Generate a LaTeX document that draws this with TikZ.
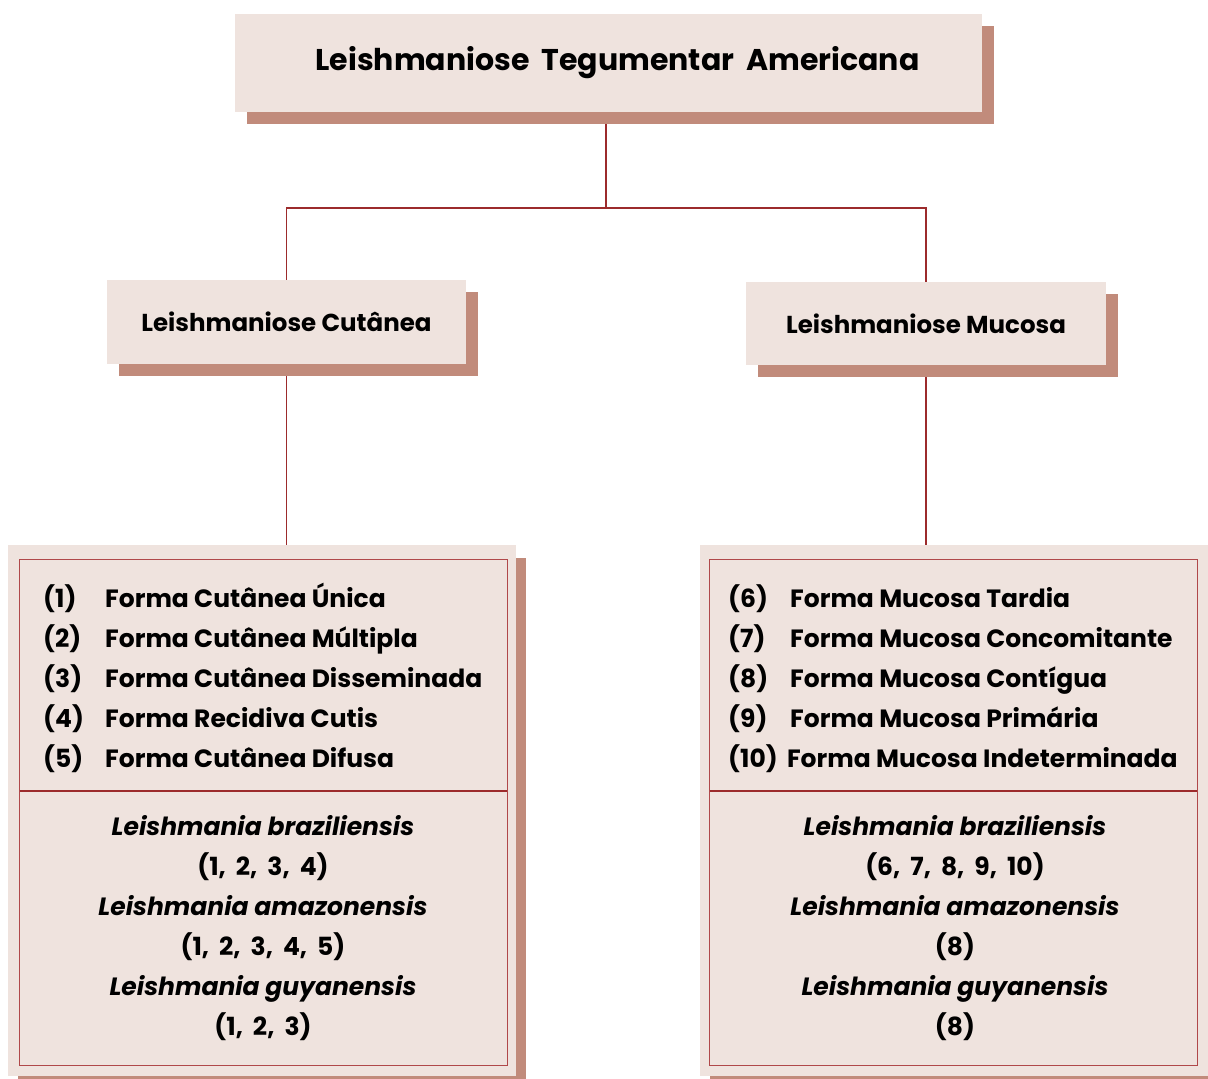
\documentclass[tikz,border=0pt]{standalone}
\usepackage{fontspec}
\setmainfont{Poppins}
\newfontfamily\widefont[WordSpace=1.9]{Poppins}
\usetikzlibrary{shadows,backgrounds}
\definecolor{boxfill}{HTML}{EFE3DE}
\definecolor{shadowrose}{HTML}{C18B7B}
\definecolor{linkred}{HTML}{9C2B2C}
\definecolor{framered}{HTML}{B0484A}

\tikzset{
  box/.style={fill=boxfill, inner sep=0pt, font=\bfseries,
    drop shadow={shadow xshift=12pt, shadow yshift=-12pt, fill=shadowrose, opacity=1}},
  panel/.style={fill=boxfill, inner sep=0pt, minimum width=508pt, minimum height=531pt,
    drop shadow={shadow xshift=10pt, shadow yshift=-13pt, fill=shadowrose, opacity=1}},
  link/.style={draw=linkred, line width=1.8pt},
  frame/.style={draw=framered, line width=1.2pt},
  item/.style={anchor=base west, inner sep=0pt, font=\fontsize{25}{30}\bfseries},
  species/.style={anchor=base, inner sep=0pt, font=\fontsize{25}{30}\bfseries\itshape},
  refs/.style={anchor=base, inner sep=0pt, font=\fontsize{25}{30}\widefont\bfseries}
}

\begin{document}
\begin{tikzpicture}[x=1pt, y=-1pt]
  \useasboundingbox (0,0) rectangle (1208,1079);

  % top level
  \node[box, minimum width=747pt, minimum height=98pt, font=\fontsize{30}{36}\widefont\bfseries] (lta) at (608.5,63) {\hspace*{18pt}Leishmaniose Tegumentar Americana};

  % the two forms
  \node[box, minimum width=359pt, minimum height=84pt, font=\fontsize{24.5}{28}\bfseries] (cut) at (286.5,322) {Leishmaniose Cutânea};
  \node[box, minimum width=360pt, minimum height=83pt, font=\fontsize{24.5}{28}\bfseries] (muc) at (926,323.5) {Leishmaniose Mucosa};

  % lists
  \node[panel] (cutpanel) at (262,810.5) {};
  \node[panel] (mucpanel) at (954,810.5) {};

  \draw[frame] ([shift={(12,15)}]cutpanel.north west) rectangle ([shift={(-9,-11)}]cutpanel.south east);
  \draw[frame] ([shift={(10,15)}]mucpanel.north west) rectangle ([shift={(-11,-11)}]mucpanel.south east);
  \draw[link] ([shift={(12,0)}]cutpanel.west |- 0,791) -- ([shift={(-9,0)}]cutpanel.east |- 0,791);
  \draw[link] ([shift={(10,0)}]mucpanel.west |- 0,791) -- ([shift={(-11,0)}]mucpanel.east |- 0,791);

  \coordinate (fork) at (606,208);
  \begin{scope}[on background layer]
    \draw[link] (lta.south -| fork) -- (fork);
    \draw[link] (cut.north) |- (fork) -| (muc.north);
    \draw[link] (cut.south) -- (cut.south |- cutpanel.north);
    \draw[link] (muc.south) -- (muc.south |- mucpanel.north);
  \end{scope}

  % cutanea
  \node[item] (c1) at (43,607) {\makebox[62pt][l]{(1)}Forma Cutânea Única};
  \node[item] (c2) at (43,647) {\makebox[62pt][l]{(2)}Forma Cutânea Múltipla};
  \node[item] (c3) at (43,687) {\makebox[62pt][l]{(3)}Forma Cutânea Disseminada};
  \node[item] (c4) at (43,727) {\makebox[62pt][l]{(4)}Forma Recidiva Cutis};
  \node[item] (c5) at (43,767) {\makebox[62pt][l]{(5)}Forma Cutânea Difusa};

  \node[species] (cbra) at (263,835) {Leishmania braziliensis};
  \node[refs] (cbran) at (263,875) {(1, 2, 3, 4)};
  \node[species] (cama) at (263,915) {Leishmania amazonensis};
  \node[refs] (caman) at (263,955) {(1, 2, 3, 4, 5)};
  \node[species] (cguy) at (263,995) {Leishmania guyanensis};
  \node[refs] (cguyn) at (263,1035) {(1, 2, 3)};

  % mucosa
  \node[item] (m6) at (728,607) {\makebox[62pt][l]{(6)}Forma Mucosa Tardia};
  \node[item] (m7) at (728,647) {\makebox[62pt][l]{(7)}Forma Mucosa Concomitante};
  \node[item] (m8) at (728,687) {\makebox[62pt][l]{(8)}Forma Mucosa Contígua};
  \node[item] (m9) at (728,727) {\makebox[62pt][l]{(9)}Forma Mucosa Primária};
  \node[item] (m10) at (728,767) {(10)\hspace{4pt} Forma Mucosa Indeterminada};

  \node[species] (mbra) at (955,835) {Leishmania braziliensis};
  \node[refs] (mbran) at (955,875) {(6, 7, 8, 9, 10)};
  \node[species] (mama) at (955,915) {Leishmania amazonensis};
  \node[refs] (maman) at (955,955) {(8)};
  \node[species] (mguy) at (955,995) {Leishmania guyanensis};
  \node[refs] (mguyn) at (955,1035) {(8)};
\end{tikzpicture}
\end{document}
